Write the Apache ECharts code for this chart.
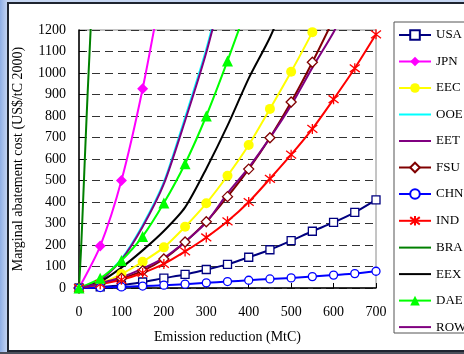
<!DOCTYPE html>
<html><head><meta charset="utf-8">
<script src="https://cdn.jsdelivr.net/npm/echarts@6/dist/echarts.min.js"></script>
<style>html,body{margin:0;padding:0;background:#c7d7f3;}#c{width:464px;height:354px;}</style>
</head><body><div id="c"></div>
<script>
const reductions = [0,50,100,150,200,250,300,350,400,450,500,550,600,650,700];
const braReductions = [0,5,10,15,20,25,30];
const seriesNames = ['USA','JPN','EEC','OOE','EET','FSU','CHN','IND','BRA','EEX','DAE','ROW'];
const usa = [0,5,13,28,46,63,86,110,143,178,220,264,305,352,410];
const jpn = [0,195,500,927,1450];
const eec = [0,22,65,122,189,285,394,522,665,833,1006,1190,1400];
const ooe = [0,38,135,292,492,792,1110,1500];
const eet = [0,36,131,285,484,778,1095,1480];
const fsu = [0,20,45,80,135,214,308,425,553,699,865,1050,1250];
const chn = [0,2,5,9,13,18,24,30,36,42,47,53,60,67,78];
const ind = [0,18,38,70,112,170,235,310,400,508,620,740,878,1022,1180];
const bra = [0,185,420,660,890,1100,1310];
const eex = [0,30,95,175,265,375,555,755,975,1165,1400];
const dae = [0,45,128,240,395,578,800,1056,1330];
const row = [0,22,50,90,140,215,305,440,560,698,850,1025,1190,1380];
const yTicks = [0,100,200,300,400,500,600,700,800,900,1000,1100,1200];
const xTicks = [0,100,200,300,400,500,600,700];

const pairs = (xs, ys) => ys.map((v,i)=>[xs[i], v]);
const asterisk = 'path://M0,0L10,10M10,0L0,10M5,-1.5L5,11.5';
const serif = 'Liberation Serif';

const defs = [
  {name:'USA', data:usa, color:'#000080', symbol:'rect', size:8, empty:true},
  {name:'JPN', data:jpn, color:'#ff00ff', symbol:'diamond', size:11},
  {name:'EEC', data:eec, color:'#ffff00', symbol:'circle', size:10},
  {name:'OOE', data:ooe, color:'#00ffff', symbol:'none'},
  {name:'EET', data:eet, color:'#800080', symbol:'none'},
  {name:'FSU', data:fsu, color:'#800000', symbol:'diamond', size:10, empty:true},
  {name:'CHN', data:chn, color:'#0000ff', symbol:'circle', size:8, empty:true},
  {name:'IND', data:ind, color:'#ff0000', symbol:asterisk, size:10, star:true},
  {name:'BRA', data:bra, color:'#008000', symbol:'none', xs:braReductions},
  {name:'EEX', data:eex, color:'#000000', symbol:'none'},
  {name:'DAE', data:dae, color:'#00ff00', symbol:'triangle', size:11},
  {name:'ROW', data:row, color:'#800080', symbol:'none'}
];

const series = defs.map(d => {
  const s = {
    name:d.name, type:'line', data:pairs(d.xs||reductions, d.data),
    smooth:0.25, clip:true,
    symbol:d.symbol, symbolSize:d.size||0, showSymbol:d.symbol!=='none',
    lineStyle:{color:d.color, width:2},
    itemStyle:{color:d.color},
    emphasis:{disabled:true}, animation:false
  };
  if (d.empty) s.itemStyle = {color:'#ffffff', borderColor:d.color, borderWidth:1.3};
  if (d.star) s.itemStyle = {color:'none', borderColor:d.color, borderWidth:1.3};
  return s;
});

const legendData = defs.map(d => d.symbol === 'none'
  ? {name:d.name, itemStyle:{opacity:0}}
  : {name:d.name});

const chart = echarts.init(document.getElementById('c'), null, {renderer:'canvas'});
chart.setOption({
  animation:false,
  backgroundColor:'#c7d7f3',
  graphic:[
    {type:'rect', z:-10, shape:{x:0,y:0,width:8,height:354}, style:{fill:new echarts.graphic.LinearGradient(0,0,1,0,[{offset:0,color:'#8eaee6'},{offset:1,color:'#c9d8f4'}])}},
    {type:'rect', z:-9, shape:{x:8,y:3,width:470,height:348}, style:{fill:'#ffffff', stroke:'#1e2430', lineWidth:2}},
    {type:'rect', z:-9, shape:{x:0,y:352,width:464,height:2}, style:{fill:'#4a4f5a'}},
    {type:'rect', z:-8, shape:{x:394,y:22,width:90,height:311}, style:{fill:'#ffffff', stroke:'#555555', lineWidth:1}}
  ],
  grid:{left:79, right:88, top:30, bottom:66, show:true, borderColor:'#8a8a8a', borderWidth:1, backgroundColor:'transparent'},
  legend:{
    orient:'vertical', left:398, top:28, padding:0, itemWidth:32, itemHeight:12, itemGap:12.5,
    textStyle:{fontFamily:serif, fontSize:13, color:'#000', lineHeight:14},
    data:legendData
  },
  xAxis:{
    type:'value', min:0, max:700, interval:100,
    name:'Emission reduction (MtC)', nameLocation:'middle', nameGap:42,
    nameTextStyle:{fontFamily:serif, fontSize:14, color:'#000'},
    axisLine:{show:true, lineStyle:{color:'#000', width:1.5}},
    axisTick:{show:true, inside:true, length:5, lineStyle:{color:'#000'}},
    axisLabel:{fontFamily:serif, fontSize:14, color:'#000', margin:17,
      formatter:v => xTicks.includes(v) ? String(v) : ''},
    splitLine:{show:false}
  },
  yAxis:{
    type:'value', min:0, max:1200, interval:100,
    name:'Marginal abatement cost (US$/tC 2000)', nameLocation:'middle', nameGap:54,
    nameTextStyle:{fontFamily:serif, fontSize:14, color:'#000'},
    axisLine:{show:true, lineStyle:{color:'#000', width:1.5}},
    axisTick:{show:true, inside:true, length:6, lineStyle:{color:'#000'}},
    axisLabel:{fontFamily:serif, fontSize:14, color:'#000', margin:13,
      formatter:v => yTicks.includes(v) ? String(v) : ''},
    splitLine:{show:true, lineStyle:{color:'#333', type:[8,5], width:1}}
  },
  series:series
});
</script></body></html>
